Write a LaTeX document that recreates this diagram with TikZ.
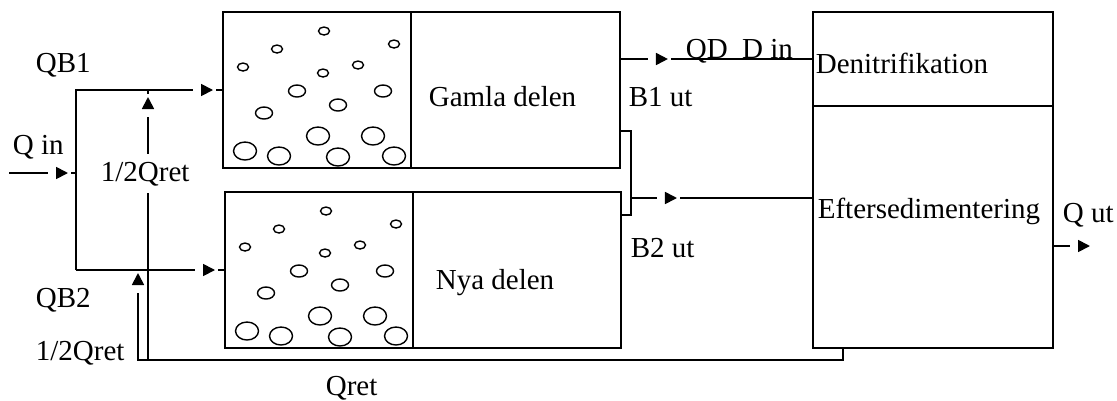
\documentclass[tikz,border=0pt]{standalone}
\usepackage{fontspec}
\setmainfont{Liberation Serif}
\usetikzlibrary{positioning, arrows.meta, decorations.markings}

\begin{document}
\begin{tikzpicture}[
    x=0.02cm, y=-0.02cm,
    line width=1pt,
    font=\fontsize{16.5}{18}\selectfont,
    node distance=0cm,
    chamber/.style={rectangle, draw, outer sep=0pt, inner sep=0pt, minimum height=3.12cm},
    basin/.style={rectangle, draw, outer sep=0pt, inner sep=0pt, minimum width=4.8cm},
    bubble/.style={line width=0.8pt},
    note/.style={anchor=base west, inner sep=0pt},
    flow/.style={postaction={decorate}, decoration={markings, mark=at position #1 with {\fill[white] (-20,-6) rectangle (3,6); \arrow{Triangle[length=0.24cm, width=0.24cm]}}}}
]
\useasboundingbox (0,0) rectangle (1117,400);

% Basins
\node[chamber, minimum width=3.76cm] (gamlaB) at (317,90) {};
\node[chamber, minimum width=4.18cm, right=of gamlaB] (gamla) {};
\node[chamber, minimum width=3.76cm] (nyaB) at (319,270) {};
\node[chamber, minimum width=4.16cm, right=of nyaB] (nya) {};

% Denitrification and settling
\node[basin, minimum height=1.88cm] (denit) at (933,59) {};
\node[basin, minimum height=4.84cm, below=of denit] (sed) {};

% Bubbles
\foreach \tank in {gamlaB, nyaB} {
  \begin{scope}[shift={(\tank.north west)}]
    \foreach \bx/\by in {101/19, 54/37, 171/32, 20/55, 100/61, 135/53}
      \draw[bubble] (\bx,\by) ellipse [x radius=0.11cm, y radius=0.08cm];
    \foreach \bx/\by in {74/79, 160/79, 115/93, 41/101}
      \draw[bubble] (\bx,\by) ellipse [x radius=0.17cm, y radius=0.12cm];
    \foreach \bx/\by in {95/124, 150/124, 22/139, 56/144, 115/145, 171/144}
      \draw[bubble] (\bx,\by) ellipse [x radius=0.23cm, y radius=0.18cm];
  \end{scope}
}

% Coordinates
\coordinate (qin) at (9,173);
\coordinate (fork) at (76,270);
\coordinate (retout) at (843,348);
\coordinate (retB) at (138,360);
\coordinate (retA) at (148,360);
\coordinate (b1ut) at (620,131);
\coordinate (b2ut) at (621,215);
\coordinate (merge) at (631,198);
\coordinate (qut) at (1092,246);

% Return sludge
\draw[flow=-0.06cm] (retout) |- (retB) -- (retB |- nyaB.west);
\draw[flow=-0.14cm] (retA) -- (retA |- gamlaB.west);

% Inflow and split
\draw[flow=-0.16cm] (qin) -- (qin -| fork);
\draw[flow=-0.2cm] (fork) |- (gamlaB.west);
\draw[flow=-0.2cm] (fork) -- (nyaB.west);

% Outflows
\draw[flow=0.96cm] (denit.west -| gamla.east) -- (denit.west);
\draw (b1ut) -- ++(11,0) |- (b2ut);
\draw[flow=0.92cm] (merge) -- (merge -| sed.west);
\draw[flow=-0.04cm] (qut -| sed.east) -- (qut);

% Labels
\node[note] at (35,72) {QB1};
\node[note] at (12,154) {Q in};
\node[note, fill=white, inner ysep=0.15cm] at (100,181) {1/2Qret};
\node[note] at (35,307) {QB2};
\node[note] at (35,360) {1/2Qret};
\node[note] at (325,395) {Qret};
\node[note] at (428,106) {Gamla delen};
\node[note] at (435,289) {Nya delen};
\node[note] at (628,106) {B1 ut};
\node[note] at (630,257) {B2 ut};
\node[note] at (685,58) {QD\ \ D in};
\node[note] at (815,73) {Denitrifikation};
\node[note] at (817,218) {Eftersedimentering};
\node[note] at (1062,222) {Q ut};

\end{tikzpicture}
\end{document}
